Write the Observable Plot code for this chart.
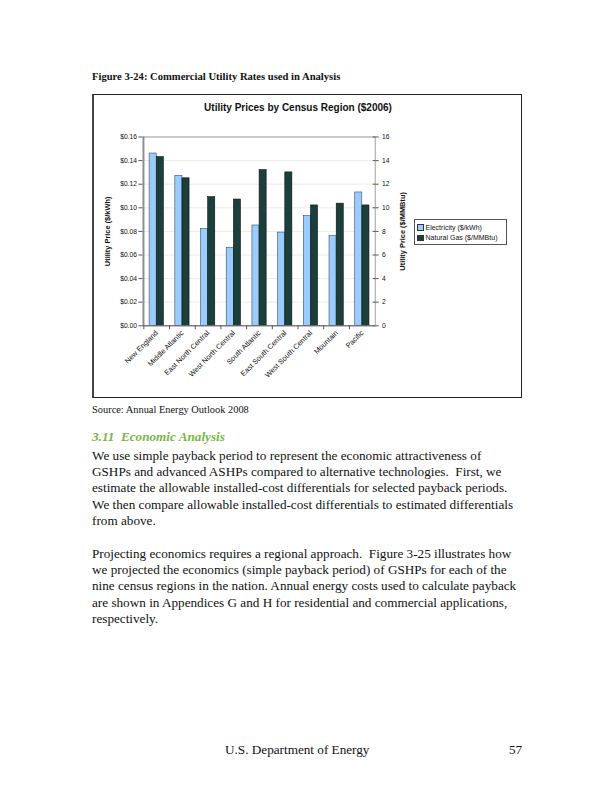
<!DOCTYPE html>
<html>
<head>
<meta charset="utf-8">
<script src="https://cdn.jsdelivr.net/npm/d3@7"></script>
<script src="https://cdn.jsdelivr.net/npm/@observablehq/plot@0.6"></script>
<style>
  html, body { margin: 0; padding: 0; background: #fff; }
  #page { position: relative; width: 612px; height: 792px; overflow: hidden; background: #fff; }
  .abs { position: absolute; white-space: nowrap; }
  .serif { font-family: "Liberation Serif", "DejaVu Serif", serif; color: #111; }
  .sans { font-family: Arial, "Liberation Sans", sans-serif; color: #111; }
  #chartbox { position: absolute; left: 92px; top: 94px; width: 430px; height: 304px; box-sizing: border-box; border: 1px solid #222; border-left: 2px solid #444; }
  #chartbox svg { position: absolute; left: -2px; top: -1px; }
  .body-line { font-size: 13.2px; line-height: 16.2px; height: 16.2px; }
  .legend { position: absolute; left: 414px; top: 219px; width: 93px; height: 26px; box-sizing: border-box; border: 1px solid #555; background: #fff; font-family: Arial, "Liberation Sans", sans-serif; font-size: 7px; color: #111; padding: 2px 0 0 2px; }
  .legend .row { display: flex; align-items: center; height: 10.5px; white-space: nowrap; }
  .legend .sw { width: 4.5px; height: 4.5px; border: 0.6px solid #333; margin-right: 2px; flex: none; }
</style>
</head>
<body>
<div id="page"></div>
<script>
// ---- Data ----
const regions = ["New England", "Middle Atlantic", "East North Central", "West North Central", "South Atlantic", "East South Central", "West South Central", "Mountain", "Pacific"];
const electricity = [0.146, 0.127, 0.082, 0.066, 0.085, 0.079, 0.093, 0.076, 0.113]; // $/kWh
const naturalGas = [14.3, 12.5, 10.9, 10.7, 13.2, 13.0, 10.2, 10.35, 10.2];            // $/MMBtu
const leftTicks = [0, 0.02, 0.04, 0.06, 0.08, 0.10, 0.12, 0.14, 0.16];
const rightTicks = [0, 2, 4, 6, 8, 10, 12, 14, 16];
const seriesNames = ["Electricity ($/kWh)", "Natural Gas ($/MMBtu)"];
const seriesColors = ["#99ccff", "#1b3f3b"];
const axisTitles = ["Utility Price ($/kWh)", "Utility Price ($/MMBtu)"];

const rows = regions.map((r, i) => ({region: r, elec: electricity[i], gas: naturalGas[i]}));

// ---- Layout ----
const W = 432, H = 305;
const mL = 51, mR = 146, mT = 43, mB = 71;
const bw = (W - mL - mR) / regions.length;
const barW = bw * 0.278;

const page = document.getElementById("page");
function addText(html, cls, style) {
  const d = document.createElement("div");
  d.className = "abs " + cls;
  d.innerHTML = html;
  Object.assign(d.style, style);
  page.appendChild(d);
  return d;
}

addText("Figure 3-24: Commercial Utility Rates used in Analysis", "serif", {left: "92px", top: "71px", fontSize: "10.6px", fontWeight: "bold", lineHeight: "12px"});

const box = document.createElement("div");
box.id = "chartbox";
page.appendChild(box);

const plot = Plot.plot({
  width: W,
  height: H,
  marginLeft: mL,
  marginRight: mR,
  marginTop: mT,
  marginBottom: mB,
  style: {fontFamily: "Arial, 'Liberation Sans', sans-serif", fontSize: "6.5px", background: "transparent", color: "#111"},
  x: {domain: regions, padding: 0, axis: null},
  y: {domain: [0, 0.16], axis: null},
  marks: [
    Plot.gridY(leftTicks, {stroke: "#d8d8d8", strokeOpacity: 1, strokeWidth: 0.5}),
    Plot.barY(rows, {x: "region", y: "elec", fill: seriesColors[0], stroke: "#3a4a60", strokeWidth: 0.6, insetLeft: bw / 2 - barW, insetRight: bw / 2}),
    Plot.barY(rows, {x: "region", y: d => d.gas / 100, fill: seriesColors[1], stroke: "#111", strokeWidth: 0.6, insetLeft: bw / 2, insetRight: bw / 2 - barW}),
    Plot.frame({stroke: "#888", strokeWidth: 0.8}),
    Plot.axisY({ticks: leftTicks, anchor: "left", tickSize: 4, tickPadding: 2, tickFormat: d => "$" + d.toFixed(2), stroke: "#555", fontSize: 6.8, label: null}),
    Plot.ruleX([0], {stroke: "#666", strokeWidth: 1, x: () => regions[0], dx: -bw / 2}),
    Plot.axisY({ticks: leftTicks, anchor: "right", tickSize: 3, tickPadding: 4, tickFormat: d => String(Math.round(d * 100)), stroke: "#555", fontSize: 6.8, label: null}),
    Plot.axisY({ticks: leftTicks, anchor: "right", tickSize: -3, tickFormat: () => "", stroke: "#555", label: null}),
    Plot.text([axisTitles[0]], {frameAnchor: "left", textAnchor: "middle", rotate: -90, dx: -36, fontWeight: "bold", fontSize: 7.5}),
    Plot.text([axisTitles[1]], {frameAnchor: "right", textAnchor: "middle", rotate: -90, dx: 28, fontWeight: "bold", fontSize: 7.5}),
    Plot.ruleY([0], {stroke: "#666", strokeWidth: 1}),
    Plot.axisX({ticks: regions, anchor: "bottom", tickSize: 4, dx: -bw / 2, tickFormat: () => "", stroke: "#555", label: null}),
    Plot.axisX({ticks: regions, anchor: "bottom", tickSize: 0, tickPadding: 6, tickRotate: -45, fontSize: 7.4, label: null})
  ]
});
box.appendChild(plot);

addText("Utility Prices by Census Region ($2006)", "sans", {left: "92px", top: "102px", width: "412px", textAlign: "center", fontSize: "10px", fontWeight: "bold", lineHeight: "12px"});

// legend
const lg = document.createElement("div");
lg.className = "legend";
seriesNames.forEach((n, i) => {
  const r = document.createElement("div");
  r.className = "row";
  const s = document.createElement("div");
  s.className = "sw";
  s.style.background = seriesColors[i];
  r.appendChild(s);
  const t = document.createElement("span");
  t.textContent = n;
  r.appendChild(t);
  lg.appendChild(r);
});
page.appendChild(lg);

addText("Source: Annual Energy Outlook 2008", "serif", {left: "92px", top: "404px", fontSize: "10.4px", lineHeight: "12px"});
addText("3.11&nbsp;&nbsp;Economic Analysis", "serif", {left: "92px", top: "429px", fontSize: "13.2px", lineHeight: "16px", fontWeight: "bold", fontStyle: "italic", color: "#7ab547"});

const para1 = [
  "We use simple payback period to represent the economic attractiveness of",
  "GSHPs and advanced ASHPs compared to alternative technologies.&nbsp; First, we",
  "estimate the allowable installed-cost differentials for selected payback periods.",
  "We then compare allowable installed-cost differentials to estimated differentials",
  "from above."
];
const para2 = [
  "Projecting economics requires a regional approach.&nbsp; Figure 3-25 illustrates how",
  "we projected the economics (simple payback period) of GSHPs for each of the",
  "nine census regions in the nation. Annual energy costs used to calculate payback",
  "are shown in Appendices G and H for residential and commercial applications,",
  "respectively."
];
para1.forEach((l, i) => addText(l, "serif body-line", {left: "92px", top: (448 + i * 16.2) + "px"}));
para2.forEach((l, i) => addText(l, "serif body-line", {left: "92px", top: (546 + i * 16.2) + "px"}));

addText("U.S. Department of Energy", "serif", {left: "225px", top: "742px", fontSize: "13.2px", lineHeight: "16px"});
addText("57", "serif", {left: "509px", top: "742px", fontSize: "13.2px", lineHeight: "16px"});
</script>
</body>
</html>
